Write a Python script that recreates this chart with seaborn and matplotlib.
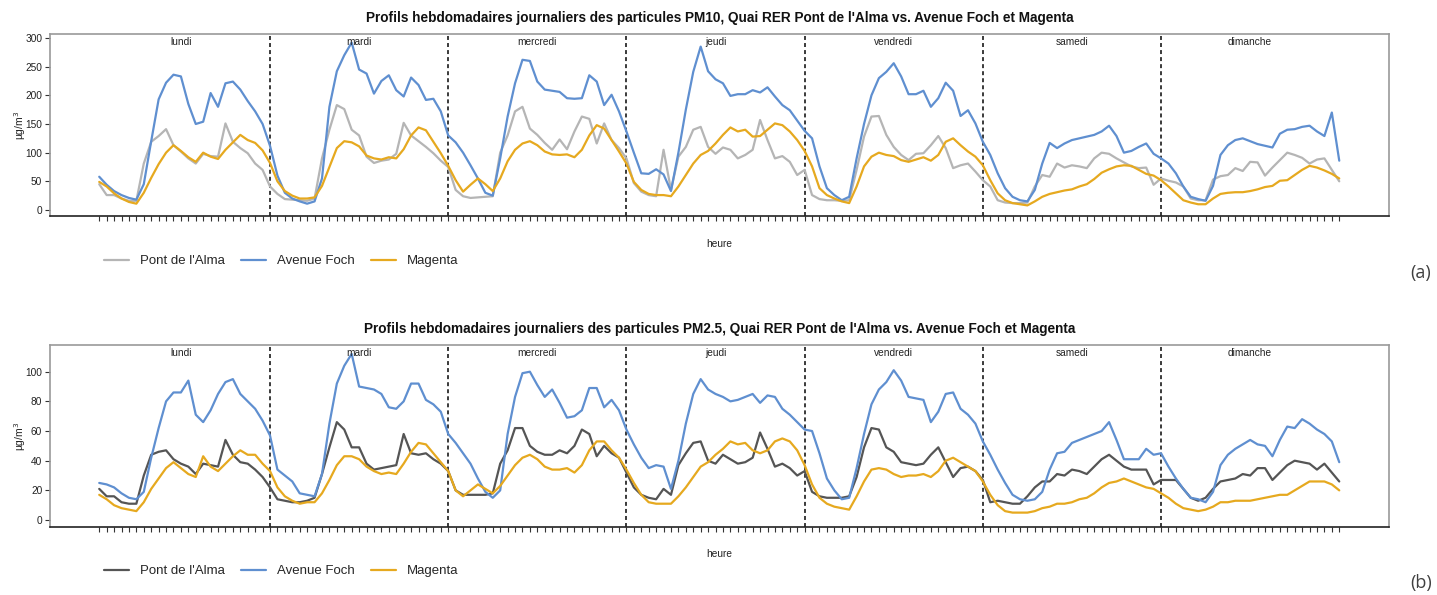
import matplotlib
matplotlib.use("Agg")
import matplotlib.pyplot as plt
from matplotlib.lines import Line2D
import pandas as pd
import seaborn as sns

# ---------------------------------------------------------------------------
# Data: hourly weekly profiles (168 hours, Monday 0h -> Sunday 23h)
# ---------------------------------------------------------------------------
jours = ["lundi", "mardi", "mercredi", "jeudi", "vendredi", "samedi", "dimanche"]
sites = ["Pont de l'Alma", "Avenue Foch", "Magenta"]
heures = list(range(1, 169))

pm10_alma = [
    45, 26, 26, 20, 16, 16, 81, 119, 129, 141, 113, 102, 90, 81, 98, 94, 93, 151, 119, 108, 99, 81, 70, 41,
    28, 19, 18, 17, 16, 20, 90, 140, 183, 176, 140, 130, 93, 82, 86, 88, 98, 152, 130, 120, 110, 99, 86, 75,
    35, 24, 21, 22, 23, 24, 100, 130, 172, 180, 142, 131, 117, 105, 123, 106, 137, 163, 159, 116, 151, 122, 108, 90,
    47, 32, 26, 24, 105, 35, 93, 110, 140, 145, 110, 98, 109, 105, 90, 96, 105, 157, 122, 90, 94, 84, 61, 70,
    26, 19, 17, 17, 16, 17, 70, 128, 163, 164, 131, 110, 96, 87, 98, 99, 113, 129, 108, 73, 78, 81, 67, 52,
    41, 17, 13, 12, 12, 13, 41, 61, 58, 81, 74, 78, 76, 73, 90, 100, 98, 90, 83, 76, 73, 74, 44, 55,
    51, 48, 41, 20, 17, 17, 53, 59, 61, 73, 68, 84, 83, 60, 74, 87, 100, 96, 91, 81, 88, 90, 70, 50,
]
pm10_foch = [
    58, 44, 33, 26, 21, 18, 45, 120, 193, 222, 236, 233, 185, 150, 154, 204, 180, 221, 224, 210, 190, 172, 150, 112,
    60, 30, 20, 15, 11, 15, 55, 180, 242, 270, 292, 245, 238, 203, 225, 235, 209, 198, 231, 218, 192, 194, 172, 130,
    118, 100, 78, 55, 30, 25, 90, 163, 221, 262, 260, 224, 210, 208, 206, 195, 194, 195, 235, 224, 183, 201, 172, 137,
    100, 64, 63, 71, 62, 33, 100, 175, 241, 285, 242, 228, 221, 199, 202, 202, 209, 205, 214, 198, 183, 174, 156, 138,
    125, 76, 38, 26, 17, 23, 90, 150, 200, 230, 241, 256, 233, 202, 202, 208, 180, 195, 222, 208, 164, 174, 151, 119,
    96, 64, 38, 23, 17, 15, 35, 81, 117, 108, 116, 122, 125, 128, 131, 137, 147, 129, 100, 103, 110, 116, 98, 90,
    81, 64, 41, 23, 19, 16, 42, 96, 113, 122, 125, 120, 115, 112, 109, 133, 140, 141, 145, 147, 137, 129, 170, 86,
]
pm10_magenta = [
    49, 41, 29, 20, 14, 11, 30, 56, 80, 100, 113, 103, 92, 84, 100, 93, 89, 105, 118, 131, 122, 117, 104, 82,
    50, 33, 25, 20, 20, 22, 42, 75, 108, 120, 118, 111, 95, 90, 88, 92, 90, 106, 130, 144, 139, 119, 99, 77,
    52, 32, 44, 55, 45, 33, 55, 85, 105, 116, 120, 113, 102, 97, 96, 97, 92, 105, 130, 148, 142, 122, 102, 81,
    49, 35, 28, 26, 26, 24, 41, 61, 81, 96, 103, 116, 131, 144, 137, 140, 128, 129, 140, 151, 148, 137, 122, 103,
    76, 38, 26, 20, 15, 12, 41, 76, 93, 100, 96, 94, 87, 84, 88, 92, 86, 96, 119, 125, 113, 102, 93, 78,
    52, 29, 17, 12, 10, 8, 15, 23, 28, 31, 34, 36, 41, 45, 54, 65, 71, 76, 78, 77, 70, 63, 60, 52,
    41, 29, 17, 13, 10, 10, 20, 28, 30, 31, 31, 33, 36, 40, 42, 51, 52, 61, 70, 77, 74, 69, 63, 55,
]

pm25_alma = [
    21, 16, 16, 12, 11, 11, 30, 44, 46, 47, 41, 38, 36, 31, 38, 37, 36, 54, 44, 39, 38, 34, 29, 22,
    14, 13, 12, 12, 13, 15, 31, 49, 66, 61, 49, 49, 38, 34, 35, 36, 37, 58, 45, 44, 45, 41, 38, 33,
    20, 17, 17, 17, 17, 18, 38, 47, 62, 62, 50, 46, 44, 44, 47, 45, 50, 61, 58, 43, 50, 45, 42, 32,
    22, 17, 15, 14, 21, 17, 37, 45, 52, 53, 40, 38, 44, 41, 38, 39, 42, 59, 48, 36, 38, 35, 30, 33,
    19, 16, 15, 15, 15, 16, 29, 49, 62, 61, 49, 46, 39, 38, 37, 38, 44, 49, 39, 29, 35, 36, 33, 27,
    12, 13, 12, 11, 11, 16, 22, 26, 26, 31, 30, 34, 33, 31, 36, 41, 44, 40, 36, 34, 34, 34, 24, 27,
    27, 27, 21, 15, 13, 15, 21, 26, 27, 28, 31, 30, 35, 35, 27, 32, 37, 40, 39, 38, 34, 38, 32, 26,
]
pm25_foch = [
    25, 24, 22, 18, 15, 14, 19, 42, 62, 80, 86, 86, 94, 71, 66, 74, 85, 93, 95, 85, 80, 75, 67, 57,
    34, 30, 26, 18, 17, 16, 31, 65, 92, 104, 112, 90, 89, 88, 85, 76, 75, 80, 92, 92, 81, 78, 73, 58,
    52, 45, 38, 28, 19, 15, 20, 58, 83, 99, 100, 91, 83, 88, 79, 69, 70, 74, 89, 89, 76, 81, 74, 61,
    51, 42, 35, 37, 36, 21, 40, 65, 85, 95, 88, 85, 83, 80, 81, 83, 85, 79, 84, 83, 75, 71, 66, 61,
    60, 45, 28, 20, 14, 15, 35, 58, 78, 88, 93, 101, 94, 83, 82, 81, 66, 73, 85, 86, 75, 71, 65, 53,
    44, 34, 25, 17, 14, 13, 14, 19, 34, 45, 46, 52, 54, 56, 58, 60, 66, 54, 41, 41, 41, 48, 44, 45,
    36, 28, 21, 15, 14, 12, 19, 37, 44, 48, 51, 54, 51, 50, 43, 54, 63, 62, 68, 65, 61, 58, 53, 39,
]
pm25_magenta = [
    17, 14, 10, 8, 7, 6, 12, 21, 28, 35, 39, 35, 31, 29, 43, 36, 33, 38, 43, 47, 44, 44, 38, 33,
    22, 16, 13, 11, 12, 12, 18, 27, 37, 43, 43, 41, 36, 33, 31, 32, 31, 38, 46, 52, 51, 45, 39, 33,
    20, 16, 20, 24, 21, 18, 23, 30, 37, 42, 44, 41, 36, 34, 34, 35, 32, 37, 47, 53, 53, 47, 42, 34,
    25, 17, 12, 11, 11, 11, 16, 22, 29, 36, 39, 44, 48, 53, 51, 52, 47, 45, 47, 53, 55, 53, 47, 37,
    24, 15, 11, 9, 8, 7, 16, 26, 34, 35, 34, 31, 29, 30, 30, 31, 29, 33, 40, 42, 39, 36, 33, 26,
    17, 10, 6, 5, 5, 5, 6, 8, 9, 11, 11, 12, 14, 15, 18, 22, 25, 26, 28, 26, 24, 22, 21, 18,
    15, 11, 8, 7, 6, 7, 9, 12, 12, 13, 13, 13, 14, 15, 16, 17, 17, 20, 23, 26, 26, 26, 24, 20,
]

titre_pm10 = ("Profils hebdomadaires journaliers des particules PM10, "
              "Quai RER Pont de l'Alma vs. Avenue Foch et Magenta")
titre_pm25 = ("Profils hebdomadaires journaliers des particules PM2.5, "
              "Quai RER Pont de l'Alma vs. Avenue Foch et Magenta")

# ---------------------------------------------------------------------------
# Figure
# ---------------------------------------------------------------------------
W, H, DPI = 1437, 595, 100
PT = 72.0 / DPI  # points per pixel

sns.set_theme(style="white")
plt.rcParams["font.family"] = ["Liberation Sans", "DejaVu Sans"]

fig = plt.figure(figsize=(W / DPI, H / DPI), dpi=DPI)


def fx(px):
    return px / W


def fy(py):
    return 1.0 - py / H


BLUE = "#5f8fd0"
GOLD = "#e6a91f"

panels = [
    dict(series=[pm10_alma, pm10_foch, pm10_magenta],
         colors=["#b5b5b5", BLUE, GOLD],
         ylim=(-10.5, 307), yticks=[0, 50, 100, 150, 200, 250, 300],
         top=34, bottom=216, title=titre_pm10, title_y=18,
         xlabel_y=244, legend_y=261, tag="(a)", tag_y=273),
    dict(series=[pm25_alma, pm25_foch, pm25_magenta],
         colors=["#555555", BLUE, GOLD],
         ylim=(-4.7, 118), yticks=[0, 20, 40, 60, 80, 100],
         top=345, bottom=527, title=titre_pm25, title_y=329,
         xlabel_y=554, legend_y=571, tag="(b)", tag_y=583),
]

LEFT, RIGHT = 50, 1389
XCENTER = (LEFT + RIGHT) / 2

for p in panels:
    ax = fig.add_axes([fx(LEFT), fy(p["bottom"]), fx(RIGHT - LEFT),
                       (p["bottom"] - p["top"]) / H])

    df = pd.DataFrame({
        "heure": heures * 3,
        "valeur": p["series"][0] + p["series"][1] + p["series"][2],
        "site": [s for s in sites for _ in heures],
    })
    palette = dict(zip(sites, p["colors"]))
    sns.lineplot(data=df, x="heure", y="valeur", hue="site", hue_order=sites,
                 palette=palette, estimator=None, linewidth=1.6,
                 legend=False, ax=ax)

    ax.set_xlim(-5.63, 174.7)
    ax.set_ylim(*p["ylim"])

    # day separators
    for k in range(1, 7):
        ax.axvline(24 * k, color="#2b2b2b", lw=1.3, linestyle=(0, (2.2, 1.7)),
                   zorder=1)

    # day names
    for i, j in enumerate(jours):
        ax.annotate(j, xy=(12 + 24 * i, 1), xycoords=("data", "axes fraction"),
                    xytext=(0, -8 * PT), textcoords="offset points",
                    ha="center", va="center", fontsize=7.3, color="#222222")

    ax.set_xticks(heures)
    ax.set_xticklabels([])
    ax.set_yticks(p["yticks"])
    ax.tick_params(axis="x", bottom=True, direction="out", length=3.6,
                   width=0.8, color="#333333")
    ax.tick_params(axis="y", left=True, direction="out", length=3.6,
                   width=0.8, color="#333333", labelsize=7.3, pad=2,
                   labelcolor="#222222")
    ax.set_xlabel("")
    ax.set_ylabel("")

    for side in ("top", "right", "left"):
        ax.spines[side].set_color("#9a9a9a")
        ax.spines[side].set_linewidth(1.2)
    ax.spines["bottom"].set_color("#222222")
    ax.spines["bottom"].set_linewidth(1.2)

    # texts around the panel
    fig.text(fx(XCENTER), fy(p["title_y"]), p["title"], ha="center",
             va="center", fontsize=9.8, fontweight="bold", color="#111111")
    fig.text(fx(20), fy((p["top"] + p["bottom"]) / 2), "µg/m$^3$",
             rotation=90, ha="center", va="center", fontsize=7.5,
             color="#222222")
    fig.text(fx(XCENTER), fy(p["xlabel_y"]), "heure", ha="center",
             va="center", fontsize=7.3, color="#222222")
    fig.text(fx(1421), fy(p["tag_y"]), p["tag"], ha="center", va="center",
             fontsize=13, color="#404040", family=["Open Sans", "DejaVu Sans"])

    handles = [Line2D([], [], color=c, lw=1.6) for c in p["colors"]]
    fig.legend(handles, sites, loc="center left",
               bbox_to_anchor=(fx(104), fy(p["legend_y"])), ncol=3,
               frameon=False, fontsize=9.5, handlelength=1.9,
               handletextpad=0.8, columnspacing=1.25, borderpad=0,
               borderaxespad=0)

fig.savefig("out.png", dpi=DPI)
